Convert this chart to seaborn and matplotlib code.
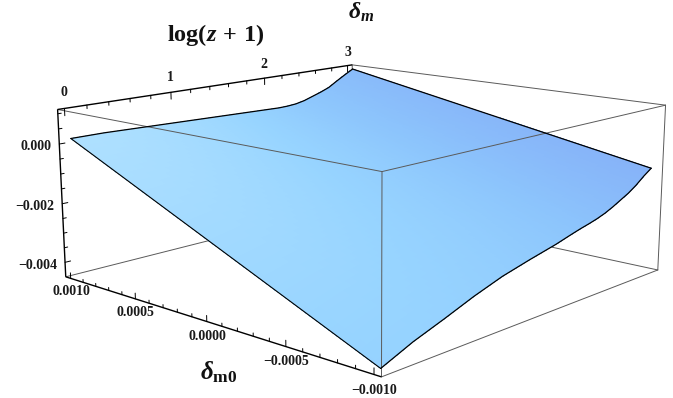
import numpy as np
import matplotlib
matplotlib.use("Agg")
import matplotlib.pyplot as plt
import seaborn as sns
from mpl_toolkits.mplot3d import proj3d

# values
log_z = [0, 0.3, 0.6, 0.9, 1.2, 1.5, 1.8, 2.0, 2.1, 2.2, 2.3, 2.4, 2.5, 2.6, 2.7, 2.8, 2.9, 3.0]
dm_plus = [0.00018, 0.00018, 0.00015, 0.00012, 0.00009, 0.00006, 0.00003, 0.00001, 0.00000, 0.00001,
           0.00004, 0.00011, 0.00022, 0.00033, 0.00046, 0.00066, 0.00085, 0.00103]
dm_minus = [-0.0044, -0.00398, -0.00364, -0.00328, -0.00297, -0.00274, -0.00253, -0.00236, -0.00228, -0.00221,
            -0.00213, -0.00203, -0.00190, -0.00175, -0.00160, -0.00141, -0.00118, -0.00098]
dm0_edges = [0.001, -0.001]

log_range = (-0.06, 3.06)
dm0_range = (-0.00104, 0.00104)
dm_range = (-0.0045, 0.00114)

log_major = [0, 1, 2, 3]
log_minor = [0.2, 0.4, 0.6, 0.8, 1.2, 1.4, 1.6, 1.8, 2.2, 2.4, 2.6, 2.8]
dm0_major = [0.001, 0.0005, 0.0, -0.0005, -0.001]
dm0_labels = ["0.0010", "0.0005", "0.0000", "\u22120.0005", "\u22120.0010"]
dm0_minor = [0.0009, 0.0008, 0.0007, 0.0006, 0.0004, 0.0003, 0.0002, 0.0001,
             -0.0001, -0.0002, -0.0003, -0.0004, -0.0006, -0.0007, -0.0008, -0.0009]
dm_major = [0.0, -0.002, -0.004]
dm_labels = ["0.000", "\u22120.002", "\u22120.004"]
dm_minor = [0.001, 0.0005, -0.0005, -0.001, -0.0015, -0.0025, -0.003, -0.0035]

sns.set_theme(style="white")
plt.rcParams["font.family"] = ["Liberation Serif", "DejaVu Serif"]
plt.rcParams["mathtext.fontset"] = "custom"
plt.rcParams["mathtext.rm"] = "Liberation Serif:bold"
plt.rcParams["mathtext.it"] = "Liberation Serif:italic:bold"
plt.rcParams["mathtext.bf"] = "Liberation Serif:bold"

fig = plt.figure(figsize=(6.73, 3.98), dpi=100)
ax = fig.add_subplot(projection="3d", computed_zorder=False)
ax.set_position([53.01 / 673, -104.52 / 398, 605.8 / 673, 605.8 / 398])
ax.set_box_aspect((2.4825, 2.4998, 1.0))
ax.view_init(elev=12.9989, azim=-137.4854, roll=0.0217)
ax.set_proj_type("persp", focal_length=0.4418)
ax.set_xticks([])
ax.set_yticks([])
ax.set_zticks([])
ax.set_axis_off()

# surface, resampled only to get a smooth shading
fine_log = np.linspace(0, 3, 150)
fine_t = np.linspace(0, 1, 50)
top = np.interp(fine_log, log_z, dm_plus)
bot = np.interp(fine_log, log_z, dm_minus)
L, T = np.meshgrid(fine_log, fine_t)
D = dm0_edges[0] + (dm0_edges[1] - dm0_edges[0]) * T
Z = top + (bot - top) * T
shade = sns.blend_palette(["#aee0ff", "#97d4ff", "#8cc4fc", "#86b2f8"], as_cmap=True)
tone = np.clip((L / 3.0) ** 1.6 * (1 - 0.15 * (1 - T)) + 0.38 * T * (1 - L / 3.0), 0, 1)
ax.plot_surface(L, D, Z, facecolors=shade(tone), rstride=1, cstride=1, shade=False,
                linewidth=0, antialiased=False, zorder=2, clip_on=False)

x0, x1 = log_range
y0, y1 = dm0_range
z0, z1 = dm_range
gray = dict(color="#5a5a5a", lw=0.7, clip_on=False)
black = dict(color="black", lw=1.0, solid_capstyle="butt", clip_on=False)

# box edges behind the surface
ax.plot([x0, x1], [y1, y1], [z0, z0], zorder=1, **gray)
ax.plot([x1, x1], [y0, y1], [z0, z0], zorder=1, **gray)
ax.plot([x1, x1], [y1, y1], [z0, z1], zorder=1, **gray)
ax.plot([x1, x1], [y0, y1], [z1, z1], zorder=1, **gray)
ax.plot([x1, x1], [y0, y0], [z0, z1], zorder=1, **gray)
ax.plot([x0, x1], [y0, y0], [z0, z0], zorder=1, **gray)
# box edges in front of it
ax.plot([x0, x0], [y0, y1], [z1, z1], zorder=3, **gray)
ax.plot([x0, x1], [y0, y0], [z1, z1], zorder=3, **gray)
ax.plot([x0, x0], [y0, y0], [z0, z1], zorder=3, **gray)

# outline of the surface
ax.plot(log_z, [dm0_edges[0]] * len(log_z), dm_plus, color="black", lw=0.9, zorder=4, clip_on=False)
ax.plot(log_z, [dm0_edges[1]] * len(log_z), dm_minus, color="black", lw=0.9, zorder=4, clip_on=False)
ax.plot([0, 0], dm0_edges, [dm_plus[0], dm_minus[0]], color="black", lw=0.8, zorder=4, clip_on=False)
ax.plot([3, 3], dm0_edges, [dm_plus[-1], dm_minus[-1]], color="black", lw=0.9, zorder=4, clip_on=False)

# the three axes with ticks
ax.plot([x0, x1], [y1, y1], [z1, z1], zorder=5, **black)
ax.plot([x0, x0], [y1, y1], [z0, z1], zorder=5, **black)
ax.plot([x0, x0], [y0, y1], [z0, z0], zorder=5, **black)

tick = dict(color="black", lw=0.7, zorder=5, clip_on=False)
for v in log_major:
    ax.plot([v, v], [y1, y1], [z1, z1 - 0.00024], **tick)
for v in log_minor:
    ax.plot([v, v], [y1, y1], [z1, z1 - 0.00012], **tick)
for v in dm_major:
    ax.plot([x0, x0 + 0.05], [y1, y1], [v, v], **tick)
for v in dm_minor:
    ax.plot([x0, x0 + 0.03], [y1, y1], [v, v], **tick)
for v in dm0_major:
    ax.plot([x0, x0], [v, v], [z0, z0 + 0.00019], **tick)
for v in dm0_minor:
    ax.plot([x0, x0], [v, v], [z0, z0 + 0.0001], **tick)

ax.set_xlim(*log_range)
ax.set_ylim(*dm0_range)
ax.set_zlim(*dm_range)
proj = ax.get_proj()


def put_label(x, y, z, s, ha):
    px, py, _ = proj3d.proj_transform(x, y, z, proj)
    ax.text2D(px, py, s, transform=ax.transData, ha=ha, va="center", fontsize=10,
              fontweight="bold", color="#1a1a1a", zorder=6, clip_on=False)


for v in log_major:
    put_label(v, y1, z1 + 0.00052, str(v), "center")
for v, s in zip(dm_major, dm_labels):
    put_label(x0 - 0.07, y1, v - 0.00005, s, "right")
for v, s in zip(dm0_major, dm0_labels):
    put_label(x0, v, z0 - 0.00046, s, "center")

fig.text(216 / 673, 1 - 35 / 398, r"$\mathrm{log}(z\,+\,1)$", fontsize=17.5, ha="center", va="center", color="#111111")
fig.text(361 / 673, 1 - 12 / 398, r"$\delta_{m}$", fontsize=17, ha="center", va="center", color="#111111")
fig.text(219 / 673, 1 - 372 / 398, r"$\delta_{\mathrm{m0}}$", fontsize=18, ha="center", va="center", color="#111111")

plt.savefig("out.png", dpi=100)
